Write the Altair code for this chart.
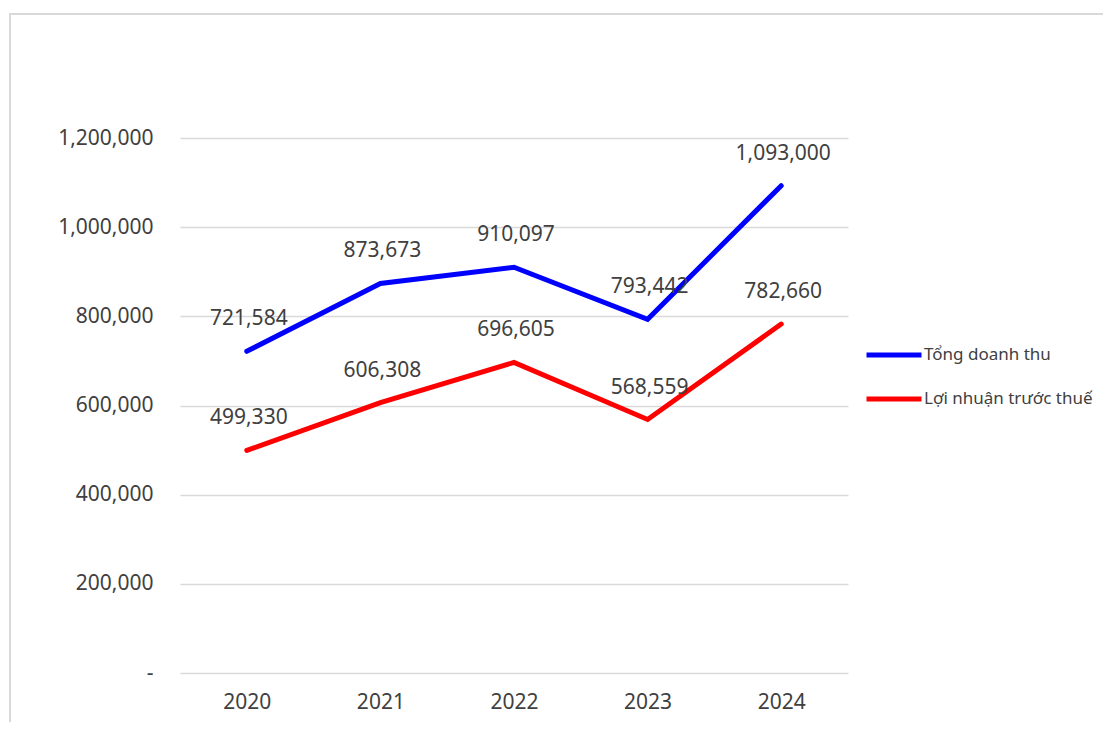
import altair as alt
import pandas as pd

years = ["2020", "2021", "2022", "2023", "2024"]
series_names = ["Tổng doanh thu", "Lợi nhuận trước thuế"]
revenue = [721584, 873673, 910097, 793442, 1093000]
profit = [499330, 606308, 696605, 568559, 782660]
colors = ["#0000FF", "#FF0000"]

rows = []
for name, vals in zip(series_names, [revenue, profit]):
    for y, v in zip(years, vals):
        rows.append({"Năm": y, "Chỉ tiêu": name, "Giá trị": v})
df = pd.DataFrame(rows)

FONT = "Noto Sans"
TXT = "#404040"

x_enc = alt.X("Năm:N", scale=alt.Scale(type="point", padding=0.5),
              axis=alt.Axis(title=None, labelAngle=0, domain=False, ticks=False,
                            labelPadding=18, labelFontSize=21, labelFont=FONT,
                            labelColor=TXT, grid=False))
y_enc = alt.Y("Giá trị:Q", scale=alt.Scale(domain=[0, 1200000], nice=False),
              axis=alt.Axis(title=None, values=[0, 200000, 400000, 600000, 800000, 1000000, 1200000],
                            labelExpr="datum.value == 0 ? '-\u00a0\u00a0\u00a0' : format(datum.value, ',')",
                            domain=False, ticks=False, labelPadding=27, labelFontSize=21,
                            labelFont=FONT, labelColor=TXT, gridColor="#d9d9d9",
                            gridWidth=1.5))
color_enc = alt.Color("Chỉ tiêu:N",
                      scale=alt.Scale(domain=series_names, range=colors),
                      legend=alt.Legend(title=None, orient="none", legendX=684, legendY=187,
                                        symbolType="stroke", symbolSize=3025,
                                        symbolStrokeWidth=5, labelFont=FONT,
                                        labelFontSize=17, labelColor=TXT,
                                        rowPadding=4, labelOffset=0, labelLimit=400))

border = alt.Chart(pd.DataFrame({"a": [0]})).mark_rect(
    fill=None, stroke="#d9d9d9", strokeWidth=2, clip=False
).encode(x=alt.value(-170), x2=alt.value(1000), y=alt.value(-124), y2=alt.value(700))

lines = alt.Chart(df).mark_line(strokeWidth=5, strokeCap="round", strokeJoin="miter").encode(
    x=x_enc, y=y_enc, color=color_enc, order=alt.Order("Năm:N"))

labels = alt.Chart(df).mark_text(dy=-32, dx=2, fontSize=21, font=FONT, color=TXT).encode(
    x="Năm:N", y="Giá trị:Q", text=alt.Text("Giá trị:Q", format=","))

chart = alt.layer(border, lines, labels).properties(
    width=668, height=535,
    autosize=alt.AutoSizeParams(type="none"),
    padding={"left": 172, "top": 130, "right": 255, "bottom": 49},
).configure_view(stroke=None)

chart.save("out.html", embed_options={"renderer": "svg", "actions": False})
